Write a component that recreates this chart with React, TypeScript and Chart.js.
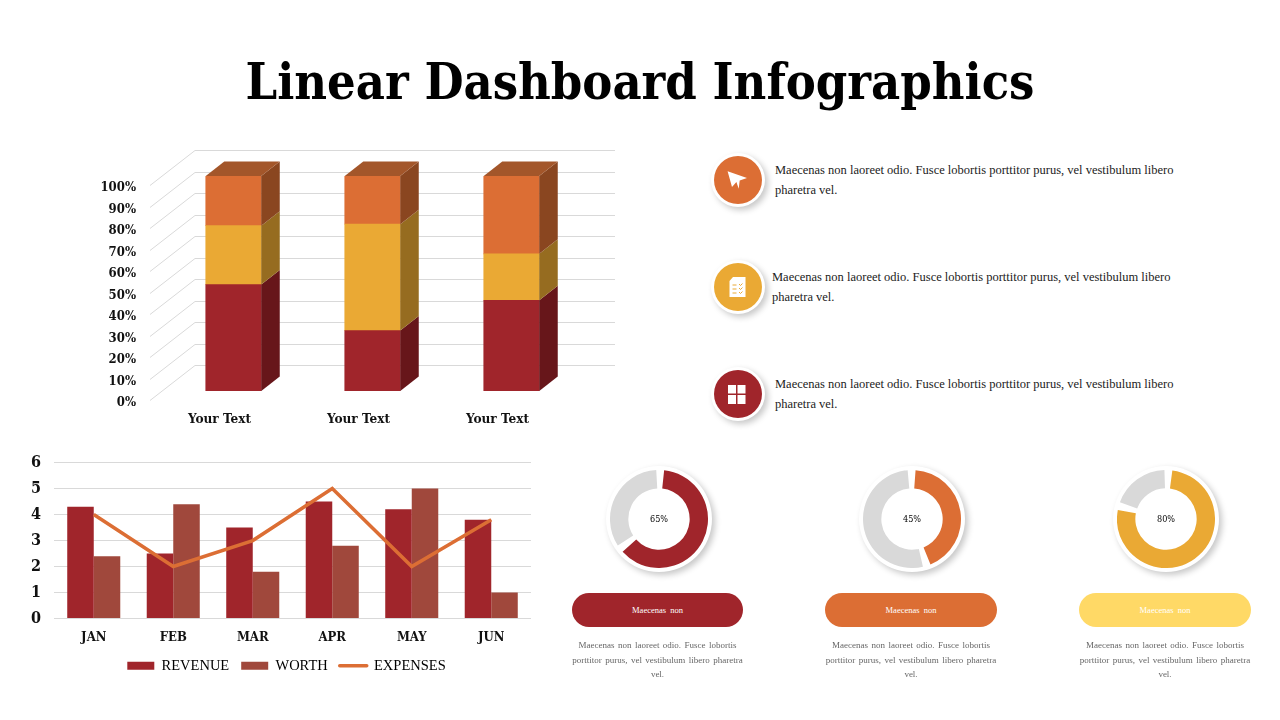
import React, { useEffect, useRef } from "react";
import { Chart, registerables } from "chart.js";
Chart.register(...registerables);

const stackCategories = ["Your Text", "Your Text", "Your Text"];
const stackRed = [49.5, 28.1, 42.2];
const stackYellow = [27.4, 49.5, 21.6];
const stackOrange = [23.1, 22.4, 36.2];

const months = ["JAN", "FEB", "MAR", "APR", "MAY", "JUN"];
const revenue = [4.3, 2.5, 3.5, 4.5, 4.2, 3.8];
const worth = [2.4, 4.4, 1.8, 2.8, 5, 1];
const expenses = [4, 2, 3, 5, 2, 3.8];

const donutValues = [65, 45, 80];

const RED = "#A0252B";
const YELLOW = "#EAA934";
const ORANGE = "#DC6E34";
const BROWN = "#A0483C";
const PALE = "#FFD966";
const GRID = "#D9D9D9";
const SERIF = '"DejaVu Serif Condensed", "DejaVu Serif", serif';
const BODY = '"Liberation Serif", serif';
const SHADOW = "3px 3px 6px rgba(0,0,0,.22)";

const depthPlugin = {
  id: "depth",
  beforeDatasetsDraw(chart: any) {
    const { ctx } = chart;
    const y = chart.scales.y;
    ctx.save();
    ctx.strokeStyle = GRID;
    ctx.lineWidth = 1;
    y.ticks.forEach((t: any) => {
      const p = Math.round(y.getPixelForValue(t.value)) + 0.5;
      ctx.beginPath();
      ctx.moveTo(150, p + 9);
      ctx.lineTo(195, p - 26);
      ctx.lineTo(615, p - 26);
      ctx.stroke();
    });
    ctx.restore();
  },
  afterDatasetsDraw(chart: any) {
    const { ctx } = chart;
    const dx = 18.5;
    const dy = -14.5;
    const sideColors = ["#67161A", "#966C20", "#8A4620"];
    const topColor = "#A3562A";
    ctx.save();
    chart.data.datasets.forEach((_: any, i: number) => {
      chart.getDatasetMeta(i).data.forEach((el: any) => {
        const p = el.getProps(["x", "y", "base", "width"], true);
        const r = p.x + p.width / 2;
        const l = p.x - p.width / 2;
        ctx.fillStyle = sideColors[i];
        ctx.beginPath();
        ctx.moveTo(r, p.base);
        ctx.lineTo(r + dx, p.base + dy);
        ctx.lineTo(r + dx, p.y + dy);
        ctx.lineTo(r, p.y);
        ctx.closePath();
        ctx.fill();
        if (i === chart.data.datasets.length - 1) {
          ctx.fillStyle = topColor;
          ctx.beginPath();
          ctx.moveTo(l, p.y);
          ctx.lineTo(l + dx, p.y + dy);
          ctx.lineTo(r + dx, p.y + dy);
          ctx.lineTo(r, p.y);
          ctx.closePath();
          ctx.fill();
        }
      });
    });
    ctx.restore();
  },
};

const legendShift = {
  id: "legendShift",
  afterLayout(chart: any) {
    chart.legend.left += 42;
  },
};

function useChart(make: (c: HTMLCanvasElement) => Chart) {
  const ref = useRef<HTMLCanvasElement | null>(null);
  useEffect(() => {
    const c = make(ref.current as HTMLCanvasElement);
    return () => c.destroy();
  }, []);
  return ref;
}

function StackChart() {
  const ref = useChart(
    (canvas) =>
      new Chart(canvas, {
        type: "bar",
        data: {
          labels: stackCategories,
          datasets: [
            { label: "A", data: stackRed, backgroundColor: RED },
            { label: "B", data: stackYellow, backgroundColor: YELLOW },
            { label: "C", data: stackOrange, backgroundColor: ORANGE },
          ],
        },
        plugins: [depthPlugin],
        options: {
          animation: false,
          responsive: false,
          layout: { padding: { top: 46, right: 59, left: 0, bottom: 0 } },
          datasets: { bar: { barThickness: 55.5 } },
          plugins: { legend: { display: false }, tooltip: { enabled: false } },
          scales: {
            x: {
              stacked: true,
              grid: { display: false },
              border: { display: false },
              afterFit: (s: any) => { s.height = 49; },
              ticks: {
                color: "#111",
                font: { family: SERIF, size: 13.5, weight: "bold" },
                labelOffset: -14,
                padding: 12,
                maxRotation: 0,
                autoSkip: false,
              },
            },
            y: {
              stacked: true,
              min: 0,
              max: 100,
              grid: { display: false, drawTicks: false },
              border: { display: false },
              afterFit: (s: any) => { s.width = 164; },
              ticks: {
                stepSize: 10,
                color: "#111",
                padding: 28,
                labelOffset: 12,
                font: { family: SERIF, size: 13, weight: "bold" },
                callback: (v: any) => `${v}%`,
              },
            },
          },
        },
      } as any)
  );
  return <canvas ref={ref} width={640} height={310} style={{ position: "absolute", left: 0, top: 130 }} />;
}

function ComboChart() {
  const ref = useChart(
    (canvas) =>
      new Chart(canvas, {
        type: "bar",
        data: {
          labels: months,
          datasets: [
            { type: "line", label: "EXPENSES", data: expenses, borderColor: ORANGE, borderWidth: 3.5, pointRadius: 0, tension: 0, order: 0, fill: false },
            { label: "REVENUE", data: revenue, backgroundColor: RED, order: 1 },
            { label: "WORTH", data: worth, backgroundColor: BROWN, order: 2 },
          ],
        },
        plugins: [legendShift],
        options: {
          animation: false,
          responsive: false,
          layout: { padding: { top: 19, right: 41, left: 0, bottom: 2 } },
          datasets: { bar: { categoryPercentage: 0.667, barPercentage: 1 } },
          plugins: {
            tooltip: { enabled: false },
            legend: {
              position: "bottom",
              labels: {
                usePointStyle: true,
                pointStyleWidth: 27,
                boxHeight: 8,
                padding: 12,
                color: "#111",
                font: { family: BODY, size: 14.5 },
                generateLabels: () => [
                  { text: "REVENUE", fillStyle: RED, strokeStyle: RED, lineWidth: 0, pointStyle: "rect", datasetIndex: 1 },
                  { text: "WORTH", fillStyle: BROWN, strokeStyle: BROWN, lineWidth: 0, pointStyle: "rect", datasetIndex: 2 },
                  { text: "EXPENSES", fillStyle: ORANGE, strokeStyle: ORANGE, lineWidth: 3.5, lineCap: "round", pointStyle: "line", datasetIndex: 0 },
                ],
              },
            },
          },
          scales: {
            x: {
              grid: { display: false, drawTicks: false },
              border: { display: false },
              afterFit: (s: any) => { s.height = 28; },
              ticks: { color: "#111", padding: 11, font: { family: SERIF, size: 13, weight: "bold" }, maxRotation: 0, autoSkip: false },
            },
            y: {
              min: 0,
              max: 6,
              grid: { color: GRID, drawTicks: false },
              border: { display: false },
              afterFit: (s: any) => { s.width = 54; },
              ticks: { stepSize: 1, color: "#111", padding: 13, font: { family: SERIF, size: 16, weight: "bold" } },
            },
          },
        },
      } as any)
  );
  return <canvas ref={ref} width={572} height={245} style={{ position: "absolute", left: 0, top: 440 }} />;
}

function Donut({ value, color, cx, cy }: { value: number; color: string; cx: number; cy: number }) {
  const ref = useChart(
    (canvas) =>
      new Chart(canvas, {
        type: "doughnut",
        data: {
          labels: ["value", "rest"],
          datasets: [{ data: [value, 100 - value], backgroundColor: [color, GRID], borderWidth: 0, spacing: 4 }],
        },
        options: {
          animation: false,
          responsive: false,
          cutout: "61%",
          plugins: { legend: { display: false }, tooltip: { enabled: false } },
        },
      } as any)
  );
  return (
    <>
      <div style={{ position: "absolute", left: cx - 53, top: cy - 53, width: 106, height: 106, borderRadius: "50%", background: "#fff", boxShadow: SHADOW }} />
      <canvas ref={ref} width={98} height={98} style={{ position: "absolute", left: cx - 49, top: cy - 49 }} />
      <div style={{ position: "absolute", left: cx - 30, top: cy - 7, width: 60, height: 14, lineHeight: "14px", textAlign: "center", fontFamily: SERIF, fontSize: 9, color: "#000" }}>{value}%</div>
    </>
  );
}

const planeIcon = (
  <polygon points="13.6,15.3 33,22 25.7,24.4 24.7,32.8 22.4,26 18,31" fill="#fff" />
);
const docIcon = (
  <g>
    <polygon points="19,14 31.5,14 31.5,34 15.5,34 15.5,18" fill="#fff" />
    <path d="M18.5 22h4M18.5 26h4M18.5 30h4M25 21l1.5 1.5 2-2M25 25l1.5 1.5 2-2M25 29l1.5 1.5 2-2" stroke={YELLOW} strokeWidth="1" fill="none" />
  </g>
);
const giftIcon = (
  <g fill="#fff">
    <rect x="14" y="15" width="8" height="8.5" />
    <rect x="23.5" y="15" width="8" height="8.5" />
    <rect x="14" y="25" width="8" height="9" />
    <rect x="23.5" y="25" width="8" height="9" />
  </g>
);

function IconCircle({ top, color, icon }: { top: number; color: string; icon: React.ReactNode }) {
  return (
    <div style={{ position: "absolute", left: 711, top: top - 3, width: 54, height: 54, borderRadius: "50%", background: "#fff", boxShadow: SHADOW }}>
      <svg width="48" height="48" style={{ position: "absolute", left: 3, top: 3 }}>
        <circle cx="24" cy="24" r="24" fill={color} />
        {icon}
      </svg>
    </div>
  );
}

function SideText({ left, top }: { left: number; top: number }) {
  return (
    <div style={{ position: "absolute", left, top, fontFamily: BODY, fontSize: 12.5, lineHeight: "20px", color: "#222", whiteSpace: "nowrap" }}>
      Maecenas non laoreet odio. Fusce lobortis porttitor purus, vel vestibulum libero
      <br />
      pharetra vel.
    </div>
  );
}

function Pill({ left, width, color }: { left: number; width: number; color: string }) {
  return (
    <>
      <div style={{ position: "absolute", left, top: 593, width, height: 34, borderRadius: 17, background: color, color: "#fff", textAlign: "center", lineHeight: "35px", fontFamily: BODY, fontSize: 8.5, wordSpacing: 2 }}>
        Maecenas non
      </div>
      <div style={{ position: "absolute", left: left - 4, top: 638, width: width + 8, textAlign: "center", lineHeight: "14.5px", fontFamily: BODY, fontSize: 9, color: "#666", wordSpacing: 1.2, whiteSpace: "nowrap" }}>
        Maecenas non laoreet odio. Fusce lobortis
        <br />
        porttitor purus, vel vestibulum libero pharetra
        <br />
        vel.
      </div>
    </>
  );
}

export default function App() {
  return (
    <div style={{ position: "absolute", left: 0, top: 0, width: 1280, height: 720, background: "#fff", overflow: "hidden" }}>
      <div style={{ position: "absolute", left: 0, top: 46, width: 1280, textAlign: "center", fontFamily: SERIF, fontWeight: "bold", fontSize: 50.1, lineHeight: "72px", color: "#000", whiteSpace: "nowrap" }}>
        Linear Dashboard Infographics
      </div>
      <StackChart />
      <ComboChart />
      <IconCircle top={156} color={ORANGE} icon={planeIcon} />
      <IconCircle top={263} color={YELLOW} icon={docIcon} />
      <IconCircle top={370} color={RED} icon={giftIcon} />
      <SideText left={775} top={160} />
      <SideText left={772} top={267} />
      <SideText left={775} top={374} />
      <Donut value={donutValues[0]} color={RED} cx={659} cy={519} />
      <Donut value={donutValues[1]} color={ORANGE} cx={912} cy={519} />
      <Donut value={donutValues[2]} color={YELLOW} cx={1166} cy={519} />
      <Pill left={572} width={171} color={RED} />
      <Pill left={825} width={172} color={ORANGE} />
      <Pill left={1079} width={172} color={PALE} />
    </div>
  );
}
